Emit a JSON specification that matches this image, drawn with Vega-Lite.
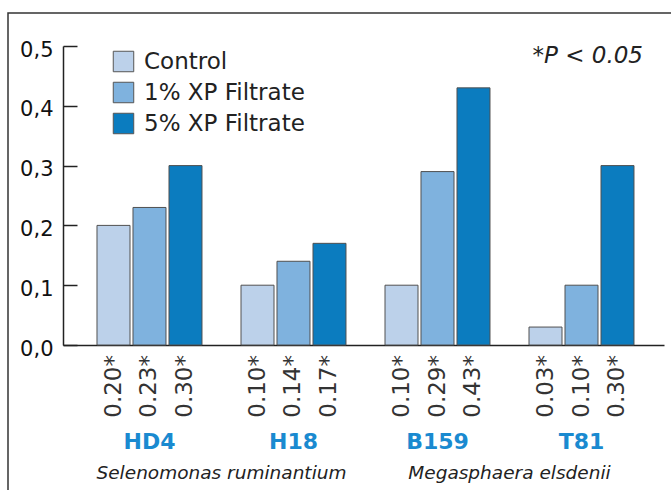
{
  "$schema": "https://vega.github.io/schema/vega-lite/v6.json",
  "width": 700,
  "height": 500,
  "autosize": {"type": "none"},
  "padding": {"left": 8, "top": 13, "right": 0, "bottom": 0},
  "background": "white",
  "config": {"view": {"stroke": "#333333", "strokeWidth": 1.5}, "font": "DejaVu Sans"},
  "title": {"text": "*P < 0.05", "anchor": "end", "orient": "top", "frame": "group", "offset": -73, "dx": -65, "font": "DejaVu Sans", "fontStyle": "italic", "fontWeight": "normal", "fontSize": 23, "color": "#222222", "baseline": "alphabetic"},
  "layer": [
    {
      "data": {"values": [
        {"strain": "HD4", "treatment": "Control", "value": 0.20},
        {"strain": "HD4", "treatment": "1% XP Filtrate", "value": 0.23},
        {"strain": "HD4", "treatment": "5% XP Filtrate", "value": 0.30},
        {"strain": "H18", "treatment": "Control", "value": 0.10},
        {"strain": "H18", "treatment": "1% XP Filtrate", "value": 0.14},
        {"strain": "H18", "treatment": "5% XP Filtrate", "value": 0.17},
        {"strain": "B159", "treatment": "Control", "value": 0.10},
        {"strain": "B159", "treatment": "1% XP Filtrate", "value": 0.29},
        {"strain": "B159", "treatment": "5% XP Filtrate", "value": 0.43},
        {"strain": "T81", "treatment": "Control", "value": 0.03},
        {"strain": "T81", "treatment": "1% XP Filtrate", "value": 0.10},
        {"strain": "T81", "treatment": "5% XP Filtrate", "value": 0.30}
      ]},
      "layer": [
        {
          "mark": {"type": "bar", "stroke": "#505050", "strokeWidth": 1},
          "encoding": {
            "x": {"field": "strain", "type": "nominal", "sort": ["HD4", "H18", "B159", "T81"],
              "scale": {"type": "band", "range": [55, 656], "paddingInner": 0, "paddingOuter": 0.0868, "align": 0.58},
              "axis": {"orient": "bottom", "offset": -168, "ticks": false, "domainColor": "#222222", "domainWidth": 1.5, "labelFont": "DejaVu Sans", "labelFontWeight": "bold", "labelFontSize": 22, "labelColor": "#1a8ad0", "labelPadding": 86, "labelAngle": 0, "title": null, "grid": false}},
            "xOffset": {"field": "treatment", "type": "nominal", "sort": ["Control", "1% XP Filtrate", "5% XP Filtrate"],
              "scale": {"paddingInner": 0.0833, "paddingOuter": 0.5417}},
            "y": {"field": "value", "type": "quantitative",
              "scale": {"domain": [0, 0.5], "range": [332, 33], "nice": false},
              "axis": {"orient": "left", "offset": -55, "values": [0, 0.1, 0.2, 0.3, 0.4, 0.5], "labelExpr": "replace(format(datum.value,'.1f'),'.',',')", "grid": false, "domainColor": "#222222", "domainWidth": 1.5, "tickColor": "#222222", "tickWidth": 1.5, "tickSize": -14, "labelFont": "DejaVu Sans", "labelFontSize": 21, "labelColor": "#111111", "labelPadding": 24, "labelOffset": 4, "title": null}},
            "color": {"field": "treatment", "type": "nominal",
              "scale": {"domain": ["Control", "1% XP Filtrate", "5% XP Filtrate"], "range": ["#bcd1ea", "#7fb2de", "#0b7cbf"]},
              "legend": {"orient": "none", "legendX": 104, "legendY": 37, "title": null, "symbolType": "square", "symbolSize": 420, "symbolStrokeColor": "#555555", "symbolStrokeWidth": 1, "symbolOpacity": 1, "labelFont": "DejaVu Sans", "labelFontSize": 23, "labelColor": "#222222", "labelOffset": 9, "labelLimit": 400, "rowPadding": 6, "padding": 0}}
          }
        },
        {
          "transform": [{"calculate": "format(datum.value, '.2f') + '*'", "as": "label"}],
          "mark": {"type": "text", "angle": 270, "align": "right", "baseline": "middle", "dx": -10, "font": "DejaVu Sans", "fontSize": 23, "color": "#333333"},
          "encoding": {
            "x": {"field": "strain", "type": "nominal", "sort": ["HD4", "H18", "B159", "T81"]},
            "xOffset": {"field": "treatment", "type": "nominal", "sort": ["Control", "1% XP Filtrate", "5% XP Filtrate"]},
            "y": {"datum": 0, "type": "quantitative"},
            "text": {"field": "label"}
          }
        }
      ]
    },
    {
      "data": {"values": [
        {"species": "Selenomonas ruminantium"},
        {"species": "Megasphaera elsdenii"}
      ]},
      "mark": {"type": "text", "baseline": "middle", "align": "center", "dy": 128, "font": "DejaVu Sans", "fontStyle": "italic", "fontSize": 18.5, "color": "#222222"},
      "encoding": {
        "x": {"field": "species", "type": "nominal", "sort": ["Selenomonas ruminantium", "Megasphaera elsdenii"],
          "scale": {"type": "band", "range": [55, 656], "paddingInner": 0, "paddingOuter": 0.0434, "align": 0.58}, "axis": null},
        "y": {"datum": 0, "type": "quantitative"},
        "text": {"field": "species"}
      }
    }
  ],
  "resolve": {"scale": {"x": "independent"}}
}
